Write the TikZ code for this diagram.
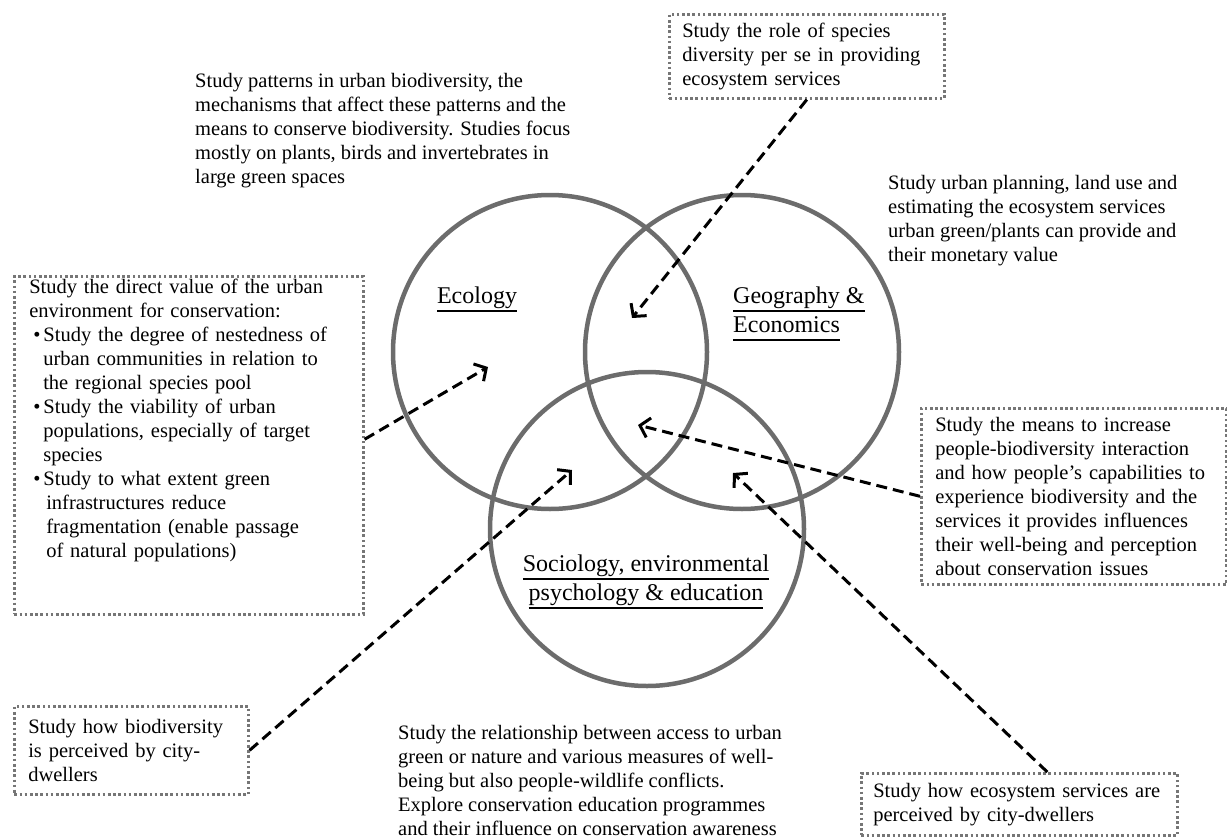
\documentclass[tikz,border=0pt]{standalone}
\usepackage{fontspec}
\setmainfont{Liberation Serif}
\usetikzlibrary{arrows.meta}
\definecolor{ringgray}{RGB}{108,108,108}
\definecolor{dotgray}{RGB}{118,118,118}
\newcommand{\bodytext}{\fontsize{20.5}{24}\selectfont}
\newcommand{\fieldtext}{\fontsize{24}{29}\selectfont}
\newcommand{\Field}[1]{\leavevmode\vtop{\hbox{#1\vphantom{gy}}\kern1.2pt\hrule height 1.5pt}}

\begin{document}
\begin{tikzpicture}[x=1pt,y=-1pt,
    every node/.style={font=\bodytext,inner sep=0pt},
    ring/.style={circle,draw=ringgray,line width=4.5pt,minimum size=314pt},
    field/.style={font=\fieldtext},
    freetext/.style={anchor=north west,align=left},
    dotbox/.style={draw=dotgray,line width=2.6pt,dash pattern=on 2.6pt off 2.6pt,
                   anchor=north west,align=left,inner xsep=13pt},
    arrow/.style={line width=3pt,dash pattern=on 11pt off 6pt,
                  -{Straight Barb[length=9pt,width=20pt]}}
]
\useasboundingbox (0,0) rectangle (1227,838);

% the three fields
\node[ring] (eco) at (550,352) {};
\node[ring] (geo) at (742,352) {};
\node[ring] (soc) at (647,529) {};

\node[field,anchor=north] (ecolbl) at (477,287) {\Field{Ecology}};
\node[field,anchor=north west,align=left] (geolbl) at (733,287)
    {\Field{Geography \&}\\\Field{Economics}};
\node[field,anchor=north,align=center] (soclbl) at (646,555)
    {\Field{Sociology, environmental}\\\Field{psychology \& education}};

% texts without a frame
\node[freetext] (ecotxt) at (195,73) {Study patterns in urban biodiversity, the\\
    mechanisms that affect these patterns and the\\
    means to conserve biodiversity. Studies focus\\
    mostly on plants, birds and invertebrates in\\
    large green spaces};
\node[freetext] (geotxt) at (888,175) {Study urban planning, land use and\\
    estimating the ecosystem services\\
    urban green/plants can provide and\\
    their monetary value};
\node[freetext] (soctxt) at (398,725) {Study the relationship between access to urban\\
    green or nature and various measures of well-\\
    being but also people-wildlife conflicts.\\
    Explore conservation education programmes\\
    and their influence on conservation awareness};

% dotted boxes
\node[dotbox,text width=249pt,minimum height=84pt] (rolebox) at (668,13)
    {Study the role of species\\diversity per se in providing\\ecosystem services};
\node[dotbox,inner xsep=15pt,text width=319pt,minimum height=338pt] (directbox) at (13,275)
    {Study the direct value of the urban\\
    environment for conservation:\\
    \hspace*{4pt}\textbullet\hspace{3pt}Study the degree of nestedness of\\
    \hspace*{14pt}urban communities in relation to\\
    \hspace*{14pt}the regional species pool\\
    \hspace*{4pt}\textbullet\hspace{3pt}Study the viability of urban\\
    \hspace*{14pt}populations, especially of target\\
    \hspace*{14pt}species\\
    \hspace*{4pt}\textbullet\hspace{3pt}Study to what extent green\\
    \hspace*{17pt}infrastructures reduce\\
    \hspace*{17pt}fragmentation (enable passage\\
    \hspace*{17pt}of natural populations)\rule[-55pt]{0pt}{55pt}};
\node[dotbox,inner xsep=14pt,text width=277pt,minimum height=176pt] (meansbox) at (920,407)
    {Study the means to increase\\
    people-biodiversity interaction\\
    and how people's capabilities to\\
    experience biodiversity and the\\
    services it provides influences\\
    their well-being and perception\\
    about conservation issues};
\node[dotbox,inner xsep=14pt,text width=206pt,minimum height=88pt] (percbox) at (13,705)
    {Study how biodiversity\\is perceived by city-\\dwellers};
\node[dotbox,inner xsep=12pt,text width=292pt,minimum height=62pt] (servbox) at (860,772)
    {Study how ecosystem services are\\perceived by city-dwellers};

% arrow heads inside the circles
\coordinate (hrole) at (632,318);
\coordinate (hdirect) at (488,367);
\coordinate (hperc) at (572,470);
\coordinate (hmeans) at (638,425);
\coordinate (hserv) at (733,473);

\draw[arrow] (rolebox.south) -- (hrole);
\draw[arrow] ([yshift=6pt]directbox.east) -- (hdirect);
\draw[arrow] (percbox.east) -- (hperc);
\draw[arrow] (meansbox.west) -- (hmeans);
\draw[arrow] ([xshift=28pt]servbox.north) -- (hserv);
\end{tikzpicture}
\end{document}
